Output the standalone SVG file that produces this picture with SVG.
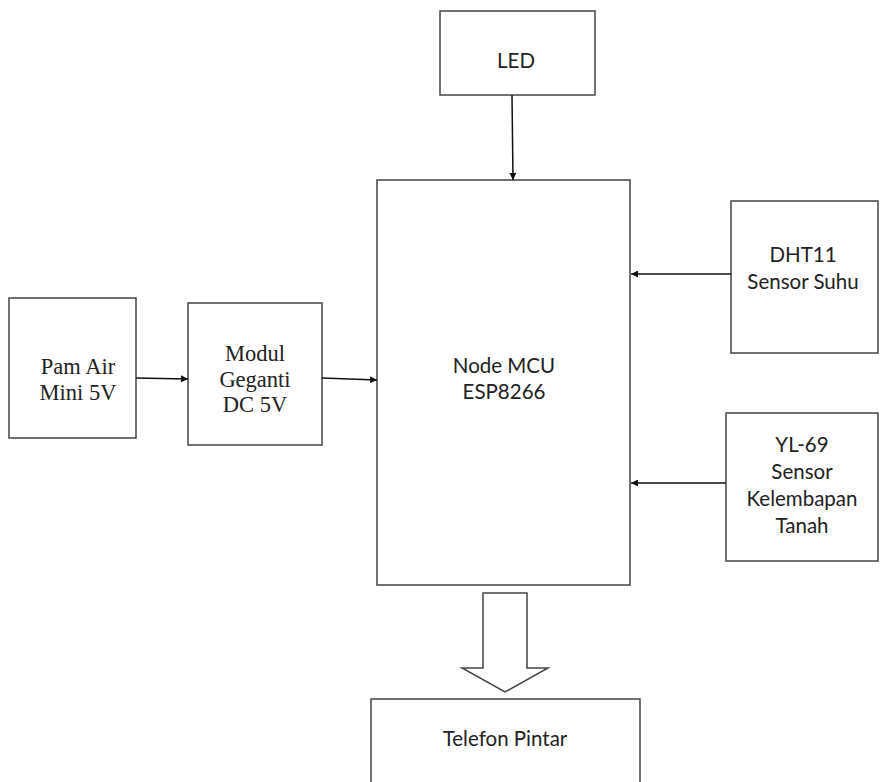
<svg xmlns="http://www.w3.org/2000/svg" width="880" height="782" viewBox="0 0 880 782">
<style>
.box{fill:#fff;stroke:#444;stroke-width:1.5}
.ln{fill:none;stroke:#111;stroke-width:1.5}
.s{font-family:Lato,"Open Sans",sans-serif;font-size:20.5px;fill:#222;text-anchor:middle}
.t{font-family:"Liberation Serif",serif;font-size:22.5px;fill:#222;text-anchor:middle}
</style>
<defs>
<marker id="ah" viewBox="0 0 10 10" refX="10" refY="5" markerWidth="7" markerHeight="7" markerUnits="userSpaceOnUse" orient="auto">
<path d="M0,0L10,5L0,10z" fill="#111"/>
</marker>
</defs>
<rect width="880" height="782" fill="#fff"/>
<g id="led"><rect class="box" x="440" y="11" width="155" height="84"/><text class="s" x="516" y="68">LED</text></g>
<g id="nodemcu"><rect class="box" x="377" y="180" width="253" height="405"/><text class="s" x="504" y="373">Node MCU</text><text class="s" x="504" y="399">ESP8266</text></g>
<g id="dht11"><rect class="box" x="731" y="201" width="147" height="152"/><text class="s" x="803" y="262">DHT11</text><text class="s" x="803" y="289">Sensor Suhu</text></g>
<g id="yl69"><rect class="box" x="726" y="413" width="152" height="148"/><text class="s" x="802" y="452">YL-69</text><text class="s" x="802" y="479">Sensor</text><text class="s" x="802" y="506">Kelembapan</text><text class="s" x="802" y="533">Tanah</text></g>
<g id="pam"><rect class="box" x="9" y="298" width="127" height="140"/><text class="t" x="78" y="374">Pam Air</text><text class="t" x="78" y="400">Mini 5V</text></g>
<g id="modul"><rect class="box" x="188" y="303" width="134" height="142"/><text class="t" x="255" y="361">Modul</text><text class="t" x="255" y="387">Geganti</text><text class="t" x="255" y="412">DC 5V</text></g>
<g id="telefon"><path class="box" d="M371,783V699H640V783"/><text class="s" x="505" y="746">Telefon Pintar</text></g>
<g id="connectors">
<line class="ln" x1="512" y1="95" x2="513" y2="180" marker-end="url(#ah)"/>
<line class="ln" x1="731" y1="274" x2="631" y2="274" marker-end="url(#ah)"/>
<line class="ln" x1="726" y1="483" x2="631" y2="483" marker-end="url(#ah)"/>
<line class="ln" x1="136" y1="378" x2="188" y2="379" marker-end="url(#ah)"/>
<line class="ln" x1="322" y1="378" x2="377" y2="380" marker-end="url(#ah)"/>
<path class="box" d="M483,593H527V668H548L505,692L462,668H483Z"/>
</g>
</svg>
